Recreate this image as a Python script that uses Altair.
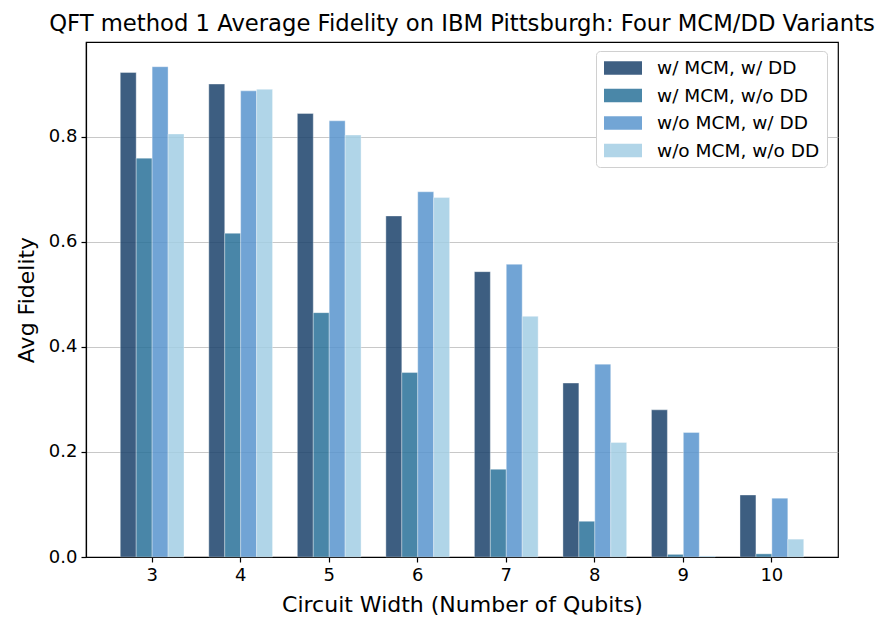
import altair as alt
import pandas as pd

widths = ["3", "4", "5", "6", "7", "8", "9", "10"]
variants = ["w/ MCM, w/ DD", "w/ MCM, w/o DD", "w/o MCM, w/ DD", "w/o MCM, w/o DD"]
mcm_dd = [0.922, 0.900, 0.844, 0.649, 0.543, 0.331, 0.280, 0.118]
mcm_nodd = [0.759, 0.616, 0.465, 0.351, 0.167, 0.068, 0.005, 0.006]
nomcm_dd = [0.933, 0.887, 0.830, 0.695, 0.557, 0.367, 0.237, 0.112]
nomcm_nodd = [0.805, 0.890, 0.803, 0.684, 0.458, 0.218, 0.002, 0.034]
colors = ["#1c436c", "#2a7299", "#5995ce", "#a3cee4"]

rows = []
for v, series in zip(variants, [mcm_dd, mcm_nodd, nomcm_dd, nomcm_nodd]):
    for w, val in zip(widths, series):
        rows.append({"width": w, "variant": v, "fidelity": val})
df = pd.DataFrame(rows)

FONT = "DejaVu Sans"

bars = alt.Chart(df).mark_bar(
    opacity=0.85, stroke="white", strokeWidth=0.6, strokeOpacity=0.6
).encode(
    x=alt.X("width:N", sort=widths,
            scale=alt.Scale(paddingInner=0.28, paddingOuter=0.387),
            axis=alt.Axis(title="Circuit Width (Number of Qubits)", labelAngle=0,
                          grid=False, tickSize=5, labelPadding=4, titlePadding=10)),
    xOffset=alt.XOffset("variant:N", sort=variants,
                        scale=alt.Scale(paddingInner=0, paddingOuter=0)),
    y=alt.Y("fidelity:Q", scale=alt.Scale(domain=[0, 0.98], nice=False, zero=True),
            axis=alt.Axis(title="Avg Fidelity", values=[0, 0.2, 0.4, 0.6, 0.8], format=".1f",
                          grid=True, gridColor="#b0b0b0", gridOpacity=0.7, gridWidth=1.2,
                          tickSize=5, labelPadding=4, titlePadding=10)),
    color=alt.Color("variant:N", sort=variants,
                    scale=alt.Scale(domain=variants, range=colors),
                    legend=alt.Legend(
                        title=None, orient="none", legendX=510, legendY=9,
                        symbolType="M-0.9,-0.665L2.9,-0.665L2.9,0.665L-0.9,0.665Z",
                        symbolSize=400, symbolOpacity=0.85, symbolStrokeWidth=0,
                        labelFontSize=18.5, labelFont=FONT, labelColor="black",
                        labelLimit=400,
                        labelOffset=34, rowPadding=7.5, padding=7,
                        strokeColor="#d0d0d0", cornerRadius=4, fillColor="white")),
)

chart = bars.properties(
    width=752, height=515,
    title=alt.TitleParams(
        "QFT method 1 Average Fidelity on IBM Pittsburgh: Four MCM/DD Variants",
        fontSize=22.7, font=FONT, fontWeight="normal", color="black",
        anchor="middle", offset=6),
    autosize=alt.AutoSizeParams(type="none"),
    padding={"left": 78, "top": 34, "right": 41, "bottom": 67},
).configure_view(
    stroke="black", strokeWidth=1.2
).configure_axis(
    labelFont=FONT, titleFont=FONT, labelFontSize=18, titleFontSize=22,
    labelColor="black", titleColor="black", titleFontWeight="normal",
    domainColor="black", tickColor="black", domainWidth=1.2, tickWidth=1.2
)

chart.save("out.html", embed_options={"renderer": "svg", "actions": False})
